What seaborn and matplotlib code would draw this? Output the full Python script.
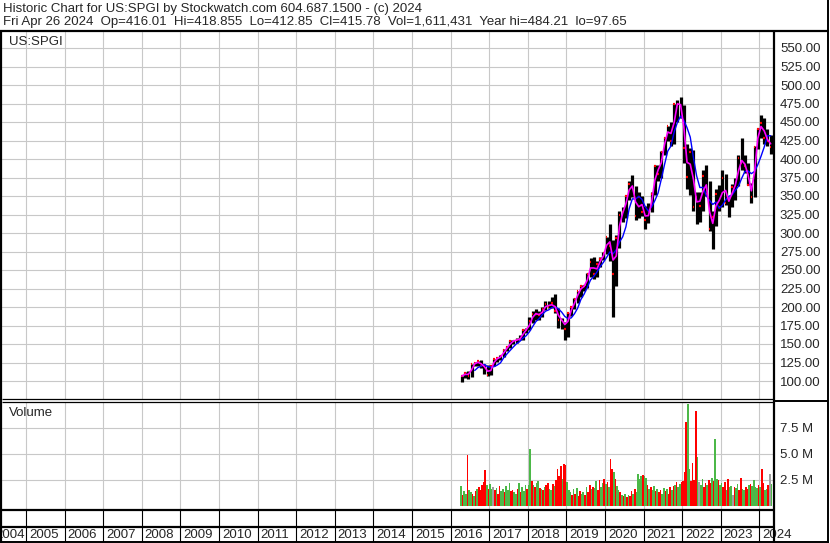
import numpy as np
import pandas as pd
import matplotlib
matplotlib.use("Agg")
import matplotlib.pyplot as plt
from matplotlib.lines import Line2D
import seaborn as sns

# monthly bars, Apr 2016 .. Apr 2024
hi = [107, 112, 113, 123, 126, 127, 128, 123, 121,
      121, 130, 131, 135, 143, 147, 155, 156, 158, 162, 170, 172,
      186, 195, 197, 195, 200, 208, 208, 214, 217, 199, 185, 180,
      192, 200, 212, 222, 230, 230, 246, 266, 268, 262, 268, 275,
      295, 312, 290, 297, 330, 335, 352, 370, 379, 364, 355, 350,
      336, 340, 356, 392, 392, 411, 430, 445, 450, 475, 480, 484,
      473, 420, 415, 412, 355, 355, 385, 392, 370, 330, 360, 365,
      385, 380, 348, 366, 375, 405, 428, 405, 395, 368, 418, 442,
      460, 455, 440, 432]
lo = [98, 104, 103, 106, 120, 120, 118, 110, 107,
      108, 120, 126, 128, 133, 140, 145, 150, 151, 155, 156, 165,
      169, 178, 182, 182, 186, 196, 198, 199, 192, 172, 170, 156,
      160, 188, 197, 206, 214, 222, 226, 240, 238, 240, 254, 263,
      271, 262, 186, 228, 280, 315, 320, 344, 348, 318, 320, 323,
      305, 314, 328, 351, 370, 375, 405, 425, 418, 420, 450, 455,
      395, 360, 352, 330, 312, 315, 330, 350, 303, 279, 310, 330,
      335, 338, 322, 335, 345, 364, 385, 381, 365, 340, 348, 413,
      428, 420, 418, 407]
cl = [106.8, 111, 107, 122.5, 124, 126.5, 120, 119, 107.5,
      120.8, 129.6, 130.7, 134, 142, 146, 153.6, 154.5, 156, 157, 169, 169.4,
      181, 191, 191, 188.6, 197, 204, 200, 206, 195, 182.8, 182.6, 170,
      191.5, 199.5, 210.5, 221, 228, 227.8, 245, 260.5, 245, 258, 265, 273,
      294, 282, 245, 293, 325, 329, 350, 366, 361, 323, 348, 329,
      317, 330, 353, 390, 380, 410, 429, 444, 425, 474, 475, 472,
      415, 376, 410, 335, 349, 337, 377, 353, 305, 321, 353, 335,
      374, 341, 345, 362, 367, 401, 395, 391, 365, 349, 416, 440,
      448, 428, 425, 416]

# volume, two bars per month (millions); g=up r=down x=unchanged
vol = [1.9, 1.1, 1.4, 1.2, 4.9, 1.5, 1.3, 1.2, 1.0, 1.4, 1.6, 1.8, 1.5, 2.0, 2.3, 3.5, 2.0, 1.6,
       2.1, 1.6, 1.8, 1.5, 1.7, 1.2, 1.9, 1.4, 1.6, 1.3, 1.9, 1.5, 2.2, 1.4, 1.5, 1.3, 1.2, 1.6, 2.2, 1.3, 1.8, 1.4, 2.0, 1.6,
       2.0, 5.5, 2.4, 2.0, 1.8, 2.2, 2.4, 1.7, 1.6, 1.5, 1.8, 2.0, 2.2, 1.6, 1.5, 2.1, 1.9, 2.5, 3.6, 2.9, 3.8, 2.6, 4.0, 3.9,
       2.3, 1.5, 1.3, 1.1, 1.6, 1.2, 1.7, 1.0, 1.4, 1.2, 1.3, 1.1, 1.8, 1.3, 2.0, 1.6, 1.8, 1.7, 2.4, 1.5, 2.5, 1.8, 2.2, 2.6,
       2.1, 2.3, 1.8, 4.5, 3.6, 3.3, 2.6, 1.9, 1.5, 1.3, 1.1, 1.0, 1.2, 0.9, 1.1, 1.0, 1.4, 1.2, 1.6, 1.3, 3.1, 2.6, 2.9, 3.0,
       2.9, 2.7, 2.0, 1.6, 1.8, 1.5, 1.9, 1.4, 1.6, 1.3, 1.5, 1.2, 1.7, 1.4, 1.6, 1.2, 1.8, 1.5, 1.9, 2.0, 2.3, 1.8, 2.1, 2.3,
       2.4, 3.3, 8.1, 9.8, 3.6, 2.4, 4.1, 2.5, 9.1, 4.7, 2.3, 2.0, 2.6, 1.8, 2.2, 2.0, 2.5, 2.2, 2.7, 2.4, 6.4, 2.6, 2.5, 2.0,
       2.2, 1.8, 2.3, 1.5, 2.6, 1.8, 1.9, 1.1, 1.8, 1.7, 2.1, 1.5, 2.7, 1.6, 1.5, 1.8, 1.6, 2.0, 2.1, 1.9, 2.5, 1.8, 1.7, 2.0,
       1.8, 3.6, 2.2, 1.5, 1.6, 2.0, 3.1, 2.1]
vol_dir = ("grggrggrgrgrrrrrgr"
           "ggxrgrrggrgggrrggrgrgggr"
           "ggrgrggrgrgrrggrgrrrrgrr"
           "gggrgrgrrggrgrrgrggrrggr"
           "grgrrgrggrgrgrgrrgrggggr"
           "ggrgrggrgrrggrgrrgrgrggr"
           "rrrggrrrrgxggrrgrrgrggrg"
           "grrgrggxrggrrggrrgrggggr"
           "grrggrxg")

years = list(range(2004, 2025))
price_ticks = list(range(100, 551, 25))
vol_ticks = [2.5, 5.0, 7.5]
title1 = "Historic Chart for US:SPGI by Stockwatch.com 604.687.1500 - (c) 2024"
title2 = ("Fri Apr 26 2024  Op=416.01  Hi=418.855  Lo=412.85  Cl=415.78  "
          "Vol=1,611,431  Year hi=484.21  lo=97.65")

sns.set_style("white")
plt.rcParams["font.family"] = ["Liberation Sans", "DejaVu Sans"]
FS = 9.5

W, H = 830, 543
fig = plt.figure(figsize=(W / 100, H / 100), dpi=100)


def rect(x0, y0, x1, y1):
    return [x0 / W, 1 - y1 / H, (x1 - x0) / W, (y1 - y0) / H]


def line(x0, y0, x1, y1, lw=1.44):
    fig.add_artist(Line2D([x0 / W, x1 / W], [1 - y0 / H, 1 - y1 / H],
                          transform=fig.transFigure, color="black", lw=lw,
                          solid_capstyle="butt"))


def px2year(px):
    return 2005 + (px - 26) / 38.6


xlim = (px2year(2), px2year(773))

months = pd.date_range("2016-04-01", periods=len(cl), freq="MS")
xm = np.asarray(months.year + (months.month - 0.5) / 12)
xv = np.repeat(np.asarray(months.year + (months.month - 1) / 12), 2) + np.tile([0.25, 0.75], len(cl)) / 12

df = pd.DataFrame({"x": xm, "hi": hi, "lo": lo, "cl": cl})
df["ma_fast"] = df["cl"].rolling(2, min_periods=1).mean()
df["ma_slow"] = df["cl"].rolling(5).mean()

# price panel
ax = fig.add_axes(rect(2, 32, 773, 399))
ax.set_xlim(*xlim)
ax.set_ylim(100 - (399 - 381) / 0.74, 100 + (381 - 32) / 0.74)
ax.set_xticks(years[1:])
ax.set_xticklabels([])
ax.set_yticks(price_ticks)
ax.set_yticklabels([f"{v:.2f}" for v in price_ticks], fontsize=FS)
ax.yaxis.tick_right()
ax.tick_params(length=0)
ax.tick_params(axis="y", pad=5)
ax.grid(True, color="#c8c8c8", lw=0.8)
ax.set_axisbelow(True)

ax.vlines(df["x"], df["lo"], df["hi"], color="black", lw=2.3)
ax.hlines(df["cl"], df["x"] - 0.02, df["x"] + 0.02, color="red", lw=1.6)
sns.lineplot(data=df, x="x", y="ma_slow", ax=ax, color="#0000ff", lw=1.0, estimator=None)
sns.lineplot(data=df, x="x", y="ma_fast", ax=ax, color="#ff00ff", lw=1.2, estimator=None)
ax.set_xlabel("")
ax.set_ylabel("")
fig.text(9 / W, 1 - 42 / H, "US:SPGI", fontsize=FS, va="center")

# volume panel
axv = fig.add_axes(rect(2, 402, 773, 510))
axv.set_xlim(*xlim)
axv.set_ylim((506 - 510) / 26 * 2.5, (506 - 402) / 26 * 2.5)
colors = {"g": "#4cb848", "r": "#ff0000", "x": "#a0a0a0"}
axv.bar(xv, vol, width=1 / 24, color=[colors[c] for c in vol_dir],
        linewidth=0, antialiased=False)
axv.set_xticks(years[1:])
axv.set_xticklabels([])
axv.set_yticks(vol_ticks)
axv.set_yticklabels([f"{v:.1f} M" for v in vol_ticks], fontsize=FS)
axv.yaxis.tick_right()
axv.tick_params(length=0)
axv.tick_params(axis="y", pad=5)
axv.grid(True, color="#c8c8c8", lw=0.8)
axv.set_axisbelow(True)
fig.text(9 / W, 1 - 413 / H, "Volume", fontsize=FS, va="center")

# date strip
axd = fig.add_axes(rect(2, 510, 773, 542))
axd.set_xlim(*xlim)
axd.set_ylim(0, 1)
axd.set_xticks([])
axd.set_yticks([])
axd.vlines(years[1:], 0, 1, color="black", lw=0.8)
for y in years:
    if y == 2004:
        axd.text(2005 - 1 / 38.6, 0.23, str(y), ha="right", va="center", fontsize=FS, clip_on=False)
    else:
        axd.text(y + 3 / 38.6, 0.23, str(y), ha="left", va="center", fontsize=FS, clip_on=False)

for a in (ax, axv, axd):
    for s in a.spines.values():
        s.set_visible(False)

# header and frame lines
fig.text(3 / W, 1 - 9 / H, title1, fontsize=FS, va="center")
fig.text(3 / W, 1 - 22 / H, title2, fontsize=FS, va="center")
line(0, 31, 829, 31, 1.6)
line(828, 0, 828, 543, 1.4)
line(1, 31, 1, 543, 1.6)
line(773.5, 31, 773.5, 543, 1.6)
line(2, 399, 773, 399, 0.9)
line(2, 402, 773, 402, 0.9)
line(773, 400.5, 828, 400.5, 1.4)
line(0, 510, 773, 510, 1.6)
line(0, 527, 773, 527, 1.6)
line(0, 542, 829, 542, 1.4)

fig.savefig("out.png", dpi=100)
